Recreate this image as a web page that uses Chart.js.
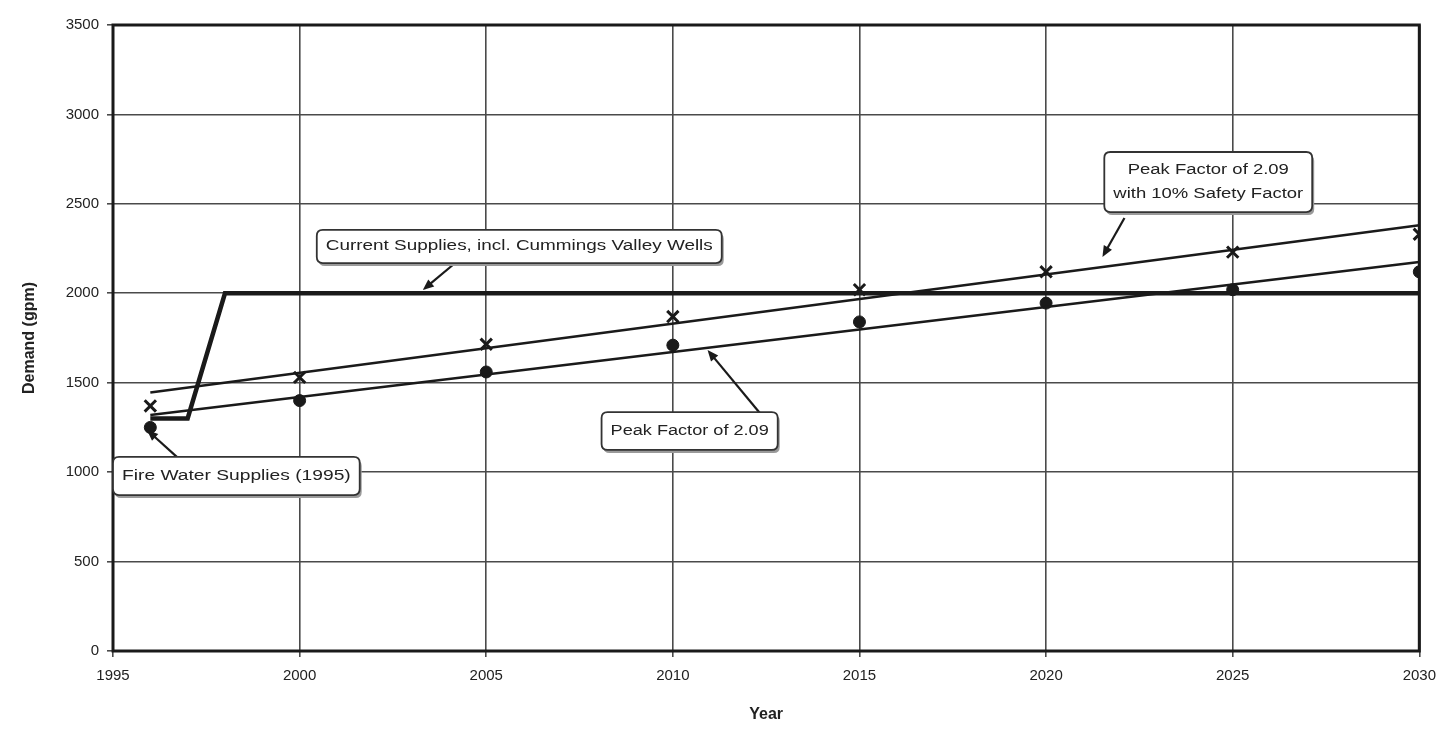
<!DOCTYPE html>
<html>
<head>
<meta charset="utf-8">
<script src="https://cdn.jsdelivr.net/npm/chart.js@4.4.1/dist/chart.umd.min.js"></script>
<style>
  html, body { margin: 0; padding: 0; background: #fff; }
  #wrap { width: 1446px; height: 730px; position: relative; }
</style>
</head>
<body>
<div id="wrap"><canvas id="demandChart"></canvas></div>
<script>
// ---- data ----
const years = [1996, 2000, 2005, 2010, 2015, 2020, 2025, 2030];
const peakFactor = [1250, 1400, 1560, 1710, 1840, 1945, 2020, 2120];
const peakSafety = [1370, 1530, 1715, 1870, 2020, 2120, 2230, 2330];

const trendYears = [1996, 2030];
const peakTrend = [1320, 2175];
const safetyTrend = [1445, 2380];

const supplyYears = [1996, 1997, 1998, 2030];
const supplyValues = [1300, 1300, 2000, 2000];

const xTicks = [1995, 2000, 2005, 2010, 2015, 2020, 2025, 2030];
const yTicks = [0, 500, 1000, 1500, 2000, 2500, 3000, 3500];

// callout boxes (in axis units) and the arrows that point at the lines
const callouts = [
  { lines: ['Current Supplies, incl. Cummings Valley Wells'],
    box: [2000.46, 2011.31, 2354, 2169], arrow: [2004.2, 2175, 2003.3, 2018] },
  { lines: ['Peak Factor of 2.09'],
    box: [2008.09, 2012.81, 1336, 1124], arrow: [2012.33, 1331, 2010.93, 1683] },
  { lines: ['Peak Factor of 2.09', 'with 10% Safety Factor'],
    box: [2021.56, 2027.13, 2790, 2454], arrow: [2022.1, 2421, 2021.51, 2203] },
  { lines: ['Fire Water Supplies (1995)'],
    box: [1995.0, 2001.61, 1085, 872], arrow: [1996.71, 1085, 1995.91, 1236] }
];

const pts = (xs, ys) => xs.map((x, i) => ({ x: x, y: ys[i] }));

const INK = '#1a1a1a';
const FONT = '"Liberation Sans", Arial, sans-serif';

// frame round the plot area
const framePlugin = {
  id: 'frame',
  afterDraw(chart) {
    const { ctx, chartArea: a } = chart;
    ctx.save();
    ctx.strokeStyle = INK;
    ctx.lineWidth = 3;
    ctx.strokeRect(a.left, a.top, a.right - a.left, a.bottom - a.top);
    ctx.restore();
  }
};

function roundRect(ctx, x, y, w, h, r) {
  ctx.beginPath();
  ctx.moveTo(x + r, y);
  ctx.lineTo(x + w - r, y);
  ctx.quadraticCurveTo(x + w, y, x + w, y + r);
  ctx.lineTo(x + w, y + h - r);
  ctx.quadraticCurveTo(x + w, y + h, x + w - r, y + h);
  ctx.lineTo(x + r, y + h);
  ctx.quadraticCurveTo(x, y + h, x, y + h - r);
  ctx.lineTo(x, y + r);
  ctx.quadraticCurveTo(x, y, x + r, y);
  ctx.closePath();
}

// callout labels with arrows
const calloutPlugin = {
  id: 'callouts',
  afterDraw(chart) {
    const { ctx } = chart;
    const xs = chart.scales.x, ys = chart.scales.y;
    ctx.save();
    callouts.forEach(c => {
      // arrow
      const x1 = xs.getPixelForValue(c.arrow[0]), y1 = ys.getPixelForValue(c.arrow[1]);
      const x2 = xs.getPixelForValue(c.arrow[2]), y2 = ys.getPixelForValue(c.arrow[3]);
      const ang = Math.atan2(y2 - y1, x2 - x1);
      ctx.strokeStyle = INK;
      ctx.fillStyle = INK;
      ctx.lineWidth = 2.2;
      ctx.beginPath();
      ctx.moveTo(x1, y1);
      ctx.lineTo(x2 - Math.cos(ang) * 8, y2 - Math.sin(ang) * 8);
      ctx.stroke();
      ctx.beginPath();
      ctx.moveTo(x2, y2);
      ctx.lineTo(x2 - Math.cos(ang - 0.4) * 12, y2 - Math.sin(ang - 0.4) * 12);
      ctx.lineTo(x2 - Math.cos(ang + 0.4) * 12, y2 - Math.sin(ang + 0.4) * 12);
      ctx.closePath();
      ctx.fill();

      // box
      const l = xs.getPixelForValue(c.box[0]), r = xs.getPixelForValue(c.box[1]);
      const t = ys.getPixelForValue(c.box[2]), b = ys.getPixelForValue(c.box[3]);
      ctx.fillStyle = '#9a9a9a';
      roundRect(ctx, l + 2, t + 3, r - l, b - t, 6);
      ctx.fill();
      ctx.fillStyle = '#fff';
      roundRect(ctx, l, t, r - l, b - t, 6);
      ctx.fill();
      ctx.lineWidth = 1.8;
      ctx.strokeStyle = '#333';
      ctx.stroke();

      // text, stretched sideways like the scan
      ctx.font = '14px ' + FONT;
      ctx.fillStyle = '#222';
      ctx.textAlign = 'center';
      ctx.textBaseline = 'middle';
      const maxW = Math.max(...c.lines.map(s => ctx.measureText(s).width));
      const sx = Math.min(1.45, (r - l - 18) / maxW);
      const lh = 24;
      const cy = (t + b) / 2 - (c.lines.length - 1) * lh / 2;
      c.lines.forEach((s, i) => {
        ctx.save();
        ctx.translate((l + r) / 2, cy + i * lh);
        ctx.scale(sx, 1);
        ctx.fillText(s, 0, 0);
        ctx.restore();
      });
    });
    ctx.restore();
  }
};

new Chart(document.getElementById('demandChart'), {
  type: 'line',
  data: {
    datasets: [
      {
        label: 'Current Supplies',
        data: pts(supplyYears, supplyValues),
        borderColor: INK,
        borderWidth: 4.5,
        pointRadius: 0,
        tension: 0
      },
      {
        label: 'Peak Factor of 2.09 with 10% Safety Factor (trend)',
        data: pts(trendYears, safetyTrend),
        borderColor: INK,
        borderWidth: 2.5,
        pointRadius: 0
      },
      {
        label: 'Peak Factor of 2.09 (trend)',
        data: pts(trendYears, peakTrend),
        borderColor: INK,
        borderWidth: 2.5,
        pointRadius: 0
      },
      {
        label: 'Peak Factor of 2.09',
        data: pts(years, peakFactor),
        showLine: false,
        pointStyle: 'circle',
        pointRadius: 6,
        pointBackgroundColor: INK,
        pointBorderColor: INK,
        pointBorderWidth: 1
      },
      {
        label: 'Peak Factor of 2.09 with 10% Safety Factor',
        data: pts(years, peakSafety),
        showLine: false,
        pointStyle: 'crossRot',
        pointRadius: 8,
        pointBorderColor: INK,
        pointBorderWidth: 3
      }
    ]
  },
  options: {
    responsive: true,
    maintainAspectRatio: false,
    animation: false,
    layout: { padding: { top: 25, right: 26, left: 0, bottom: 6 } },
    plugins: {
      legend: { display: false },
      tooltip: { enabled: false }
    },
    scales: {
      x: {
        type: 'linear',
        min: 1995,
        max: 2030,
        afterBuildTicks: s => { s.ticks = xTicks.map(v => ({ value: v })); },
        afterFit: s => { s.height = 73; },
        grid: { color: '#4a4a4a', lineWidth: 1.6, tickLength: 6, drawTicks: true },
        border: { display: false },
        ticks: {
          color: '#222',
          padding: 10,
          maxRotation: 0,
          font: { family: FONT, size: 15 },
          callback: v => String(v)
        },
        title: {
          display: true,
          text: 'Year',
          color: '#222',
          padding: { top: 0, bottom: 0 },
          font: { family: FONT, size: 16, weight: 'bold' }
        }
      },
      y: {
        min: 0,
        max: 3500,
        afterBuildTicks: s => { s.ticks = yTicks.map(v => ({ value: v })); },
        afterFit: s => { s.width = 113; },
        grid: { color: '#4a4a4a', lineWidth: 1.6, tickLength: 6 },
        border: { display: false },
        ticks: {
          color: '#222',
          padding: 8,
          font: { family: FONT, size: 15 },
          callback: v => String(v)
        },
        title: {
          display: true,
          text: 'Demand (gpm)',
          color: '#222',
          padding: { top: 20, bottom: 0 },
          font: { family: FONT, size: 16, weight: 'bold' }
        }
      }
    }
  },
  plugins: [framePlugin, calloutPlugin]
});
</script>
</body>
</html>
